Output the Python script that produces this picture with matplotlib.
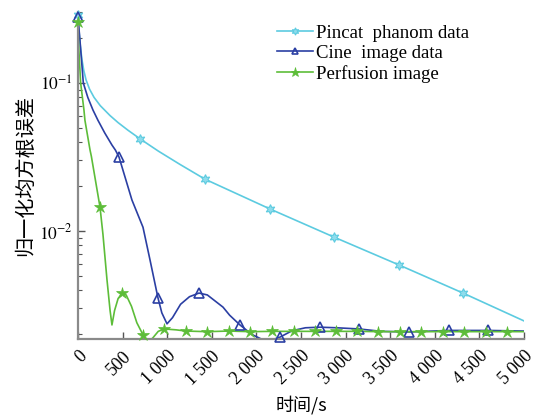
import matplotlib
matplotlib.use("Agg")
import matplotlib.pyplot as plt
from matplotlib.lines import Line2D
from matplotlib.ticker import FixedLocator, FuncFormatter, LogLocator, NullFormatter
import numpy as np

# Iterations (s) and normalized RMSE for each dataset
pincat_t = [0, 10, 25, 45, 65, 90, 130, 180, 250, 359, 450, 560, 695, 900, 1143, 1424,
            2152, 2870, 3599, 4316, 5000]
pincat_err = [0.290, 0.230, 0.181, 0.1435, 0.1216, 0.1052, 0.0908, 0.0800, 0.0703, 0.0603,
              0.0540, 0.0480, 0.0420, 0.0347, 0.0282, 0.0224, 0.0141, 0.0091, 0.0059,
              0.00381, 0.00247]
pincat_marks = [0, 695, 1424, 2152, 2870, 3599, 4316]

cine_t = [0, 22, 60, 110, 168, 224, 300, 381, 420, 460, 605, 729, 807, 897, 940, 998,
          1060, 1150, 1250, 1357, 1450, 1626, 1700, 1816, 1950, 2050, 2119, 2200, 2265,
          2400, 2550, 2713, 2900, 3150, 3400, 3711, 4160, 4596, 5000]
cine_err = [0.280, 0.195, 0.100, 0.080, 0.0657, 0.056, 0.046, 0.0381, 0.0352, 0.0316,
            0.0162, 0.0106, 0.0064, 0.00353, 0.0028, 0.00236, 0.0026, 0.0032, 0.0036,
            0.00381, 0.0037, 0.00306, 0.0027, 0.00232, 0.00200, 0.00187, 0.00184,
            0.00186, 0.00192, 0.00212, 0.00222, 0.00224, 0.00222, 0.00218, 0.00210,
            0.00208, 0.00213, 0.00213, 0.00211]
cine_marks = [0, 460, 897, 1357, 1816, 2265, 2713, 3150, 3711, 4160, 4596]

perf_t = [0, 4, 30, 67, 78, 135, 150, 247, 280, 325, 360, 381, 410, 450, 497, 540, 600,
          660, 731, 780, 840, 900, 967, 1100, 1211, 1445, 1690, 1929, 2173, 2419, 2659,
          2894, 3128, 3365, 3610, 3845, 4092, 4327, 4574, 4809, 5000]
perf_err = [0.260, 0.195, 0.100, 0.0657, 0.056, 0.0353, 0.032, 0.0145, 0.0095, 0.0047,
            0.0029, 0.00232, 0.0029, 0.0035, 0.00381, 0.0037, 0.0031, 0.0024, 0.00198,
            0.00175, 0.0019, 0.00210, 0.00218, 0.00215, 0.00211, 0.00209, 0.00211,
            0.00209, 0.00210, 0.00210, 0.00210, 0.00210, 0.00210, 0.00209, 0.00209,
            0.00209, 0.00209, 0.00209, 0.00209, 0.00209, 0.00209]
perf_marks = [0, 247, 497, 731, 967, 1211, 1445, 1690, 1929, 2173, 2419, 2659, 2894,
              3128, 3365, 3610, 3845, 4092, 4327, 4574, 4809]

series_names = ["Pincat  phanom data", "Cine  image data", "Perfusion image"]
x_ticks = [0, 500, 1000, 1500, 2000, 2500, 3000, 3500, 4000, 4500, 5000]

plt.rcParams["font.family"] = ["Liberation Serif", "Noto Sans CJK SC"]
plt.rcParams["mathtext.fontset"] = "stix"

fig = plt.figure(figsize=(5.43, 4.16), dpi=100)
ax = fig.add_axes([0.1436, 0.1839, 0.8214, 0.7863])

styles = [
    dict(color="#5ccbe0", marker=(6, 1, 0), ms=7, mfc="#8fdcec", mec="#5ccbe0", mew=0.8),
    dict(color="#2b3fa3", marker="^", ms=6.5, mfc="none", mec="#2b3fa3", mew=1.2),
    dict(color="#5dbd39", marker="*", ms=9, mfc="#5dbd39", mec="#5dbd39", mew=0.5),
]
data = [(pincat_t, pincat_err, pincat_marks),
        (cine_t, cine_err, cine_marks),
        (perf_t, perf_err, perf_marks)]

handles = []
for (t, e, marks), st, name in zip(data, styles, series_names):
    t = np.asarray(t, float)
    e = np.asarray(e, float)
    ax.plot(t, e, color=st["color"], lw=1.2, zorder=2)
    idx = [list(t).index(m) for m in marks]
    ax.plot(t[idx], e[idx], ls="none", marker=st["marker"], ms=st["ms"],
            mfc=st["mfc"], mec=st["mec"], mew=st["mew"], clip_on=False, zorder=3)
    handles.append(Line2D([], [], color=st["color"], lw=1.2, marker=st["marker"],
                          ms=st["ms"] * 0.75, mfc=st["mfc"], mec=st["mec"], mew=st["mew"]))

ax.set_yscale("log")
ax.set_xlim(0, 5000)
ax.set_ylim(0.00185, 0.30)

ax.xaxis.set_major_locator(FixedLocator(x_ticks))
ax.xaxis.set_major_formatter(FuncFormatter(lambda v, p: f"{int(v):,}".replace(",", " ")))
ax.yaxis.set_major_locator(LogLocator(base=10))
ax.yaxis.set_minor_locator(LogLocator(base=10, subs=np.arange(2, 10)))
ax.yaxis.set_minor_formatter(NullFormatter())
ax.yaxis.set_major_formatter(FuncFormatter(lambda v, p: r"$10^{%d}$" % round(np.log10(v))))

for side in ("top", "right"):
    ax.spines[side].set_visible(False)
for side in ("left", "bottom"):
    ax.spines[side].set_color("#8a8a8a")
    ax.spines[side].set_linewidth(1.6)

ax.tick_params(axis="both", which="both", direction="in", color="#555555")
ax.tick_params(axis="both", which="major", length=5, width=1.0)
ax.tick_params(axis="x", which="major", labelsize=13, pad=6)
ax.tick_params(axis="y", which="major", labelsize=12.5, pad=4)
ax.tick_params(axis="y", which="minor", length=3, width=0.8)
for lab in ax.get_xticklabels():
    lab.set_rotation(45)
    lab.set_ha("right")
    lab.set_va("top")
    lab.set_rotation_mode("anchor")

ax.set_xlabel("时间/s", fontsize=13, family=["Noto Sans CJK SC", "Liberation Serif"], labelpad=5)
ax.set_ylabel("归一化均方根误差", fontsize=14.5, family=["Noto Sans CJK SC"], labelpad=2)

ax.legend(handles, series_names, loc="upper left", bbox_to_anchor=(0.43, 0.985),
          frameon=False, fontsize=13.5, handlelength=1.9, handletextpad=0.15,
          labelspacing=0.15, borderaxespad=0.0)

fig.savefig("out.png", dpi=100)
